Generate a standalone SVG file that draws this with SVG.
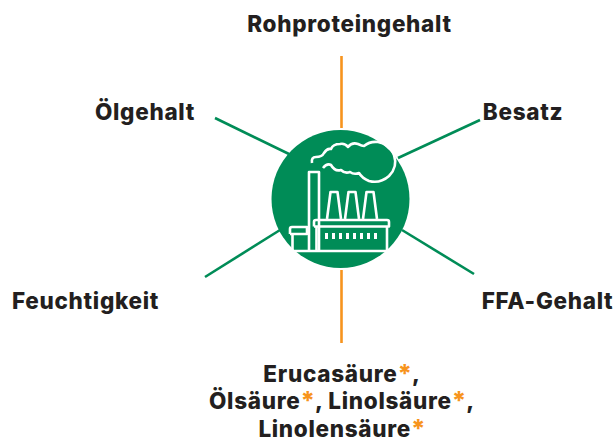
<svg xmlns="http://www.w3.org/2000/svg" width="615" height="442" viewBox="0 0 615 442">
<style>
.t{font-family:Inter,"Liberation Sans",sans-serif;font-weight:800;font-size:22.5px;letter-spacing:.7px;fill:#231f20}
.s{fill:#f7941d;font-size:25px;letter-spacing:0}
.g{stroke:#008c57;stroke-width:2.6;fill:none}
.o{stroke:#f7941d;stroke-width:2.6;fill:none}
.w{stroke:#fff;stroke-width:2.6;fill:none;stroke-linejoin:round}
.wf{fill:#fff}
</style>
<rect width="615" height="442" fill="#fff"/>
<g id="connectors">
<line class="o" x1="341.500" y1="56" x2="341.500" y2="128"/>
<line class="o" x1="341.500" y1="270" x2="341.500" y2="343"/>
<line class="g" x1="215" y1="118" x2="289" y2="154"/>
<line class="g" x1="398" y1="158" x2="480" y2="120"/>
<line class="g" x1="205" y1="277" x2="280" y2="230"/>
<line class="g" x1="402" y1="230" x2="474" y2="274"/>
</g>
<g id="factory">
<circle cx="340.500" cy="199" r="69" fill="#008c57"/>
<path class="w" d="M309 251V172H319V251"/>
<path class="w" d="M327 219L330.500 192H337.500L341 219M345 219L348.500 192H355.500L359 219M363 219L366.500 192H373.500L377 219"/>
<path class="w" d="M314 226.500V222Q314 220 316 220H387Q389 220 389 222V226.500H314M316.500 226.500V251M387 226.500V251"/>
<path class="w" d="M290 234V229Q290 227 292 227H307V234H290M292.500 234V251"/>
<path class="w" d="M294 251H388"/>
<g class="wf">
<rect x="325" y="233" width="3" height="6"/><rect x="332" y="233" width="3" height="6"/><rect x="339" y="233" width="3" height="6"/><rect x="346" y="233" width="3" height="6"/><rect x="353" y="233" width="3" height="6"/><rect x="360" y="233" width="3" height="6"/><rect x="367" y="233" width="3" height="6"/><rect x="374" y="233" width="3" height="6"/>
</g>
<path class="w" d="M312 163Q311 157 316 157Q322 157 324 153Q327 148 331 149Q333 144 340 144Q345 143 348 147Q352 142 358 144Q362 146 364 146Q370 141 378 142Q390 144 394 155Q398 167 389 176Q380 184 369 181Q362 178 359 173Q354 175 350 172Q345 174 341 170Q335 172 331 165Q327 163 323 168"/>
</g>
<g id="n-rohprotein"><text class="t" x="349.500" y="32" text-anchor="middle">Rohproteingehalt</text></g>
<g id="n-oel"><text class="t" x="145" y="120" text-anchor="middle">Ölgehalt</text></g>
<g id="n-besatz"><text class="t" x="523" y="120" text-anchor="middle">Besatz</text></g>
<g id="n-feuchte"><text class="t" x="85.500" y="309" text-anchor="middle">Feuchtigkeit</text></g>
<g id="n-ffa"><text class="t" x="547.500" y="309" text-anchor="middle">FFA-Gehalt</text></g>
<g id="n-saeuren">
<text class="t" x="342" y="381.500" text-anchor="middle">Erucasäure<tspan class="s">*</tspan>,</text>
<text class="t" x="342" y="409" text-anchor="middle">Ölsäure<tspan class="s">*</tspan>, Linolsäure<tspan class="s">*</tspan>,</text>
<text class="t" x="342" y="436.500" text-anchor="middle">Linolensäure<tspan class="s">*</tspan></text>
</g>
</svg>
